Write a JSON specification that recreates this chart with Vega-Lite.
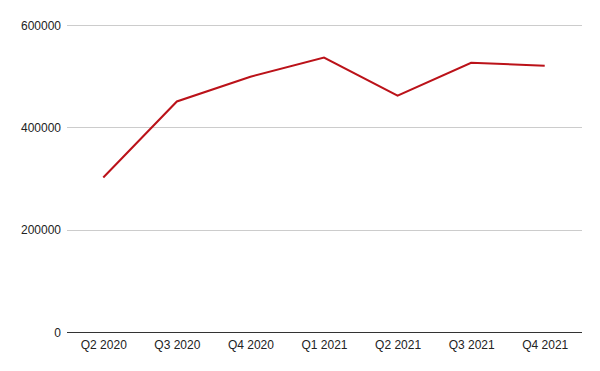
{
  "$schema": "https://vega.github.io/schema/vega-lite/v6.json",
  "width": 515,
  "height": 307,
  "autosize": {"type": "none"},
  "padding": {"left": 66.5, "top": 25, "right": 18, "bottom": 39},
  "background": "white",
  "config": {
    "view": {"stroke": null},
    "font": "Liberation Sans"
  },
  "data": {
    "values": [
      {"quarter": "Q2 2020", "value": 302000},
      {"quarter": "Q3 2020", "value": 450500},
      {"quarter": "Q4 2020", "value": 499000},
      {"quarter": "Q1 2021", "value": 536500},
      {"quarter": "Q2 2021", "value": 462000},
      {"quarter": "Q3 2021", "value": 526000},
      {"quarter": "Q4 2021", "value": 520500}
    ]
  },
  "mark": {"type": "line", "color": "#bb1219", "strokeWidth": 2},
  "encoding": {
    "x": {
      "field": "quarter",
      "type": "ordinal",
      "sort": null,
      "scale": {"type": "point", "padding": 0.5},
      "axis": {
        "title": null,
        "labelAngle": 0,
        "labelFontSize": 12,
        "labelColor": "#222222",
        "labelPadding": 7,
        "ticks": false,
        "domainColor": "#333333",
        "domainWidth": 1,
        "grid": false
      }
    },
    "y": {
      "field": "value",
      "type": "quantitative",
      "scale": {"domain": [0, 600000], "nice": false},
      "axis": {
        "title": null,
        "values": [0, 200000, 400000, 600000],
        "format": "d",
        "labelFontSize": 12,
        "labelColor": "#222222",
        "labelPadding": 6,
        "ticks": false,
        "domain": false,
        "gridColor": "#cccccc",
        "gridWidth": 1
      }
    }
  }
}
